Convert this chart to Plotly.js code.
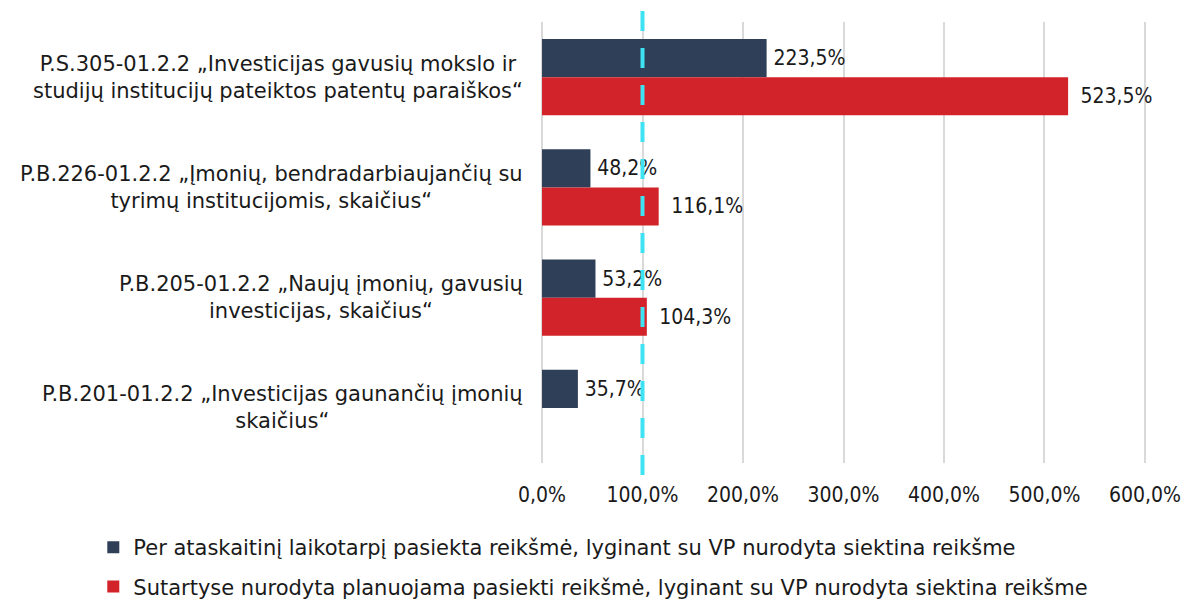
<!DOCTYPE html>
<html>
<head>
<meta charset="utf-8">
<script src="https://cdn.plot.ly/plotly-3.0.1.min.js"></script>
<style>html,body{margin:0;padding:0;background:#fff;}#chart{width:1181px;height:601px;}</style>
</head>
<body>
<div id="chart"></div>
<script>
const categories = ["P.S.305", "P.B.226", "P.B.205", "P.B.201"];
const categoryLabels = [
  "P.S.305-01.2.2 „Investicijas gavusių mokslo ir<br>studijų institucijų pateiktos patentų paraiškos“",
  "P.B.226-01.2.2 „Įmonių, bendradarbiaujančių su<br>tyrimų institucijomis, skaičius“",
  "P.B.205-01.2.2 „Naujų įmonių, gavusių<br>investicijas, skaičius“",
  "P.B.201-01.2.2 „Investicijas gaunančių įmonių<br>skaičius“"
];
const achieved = [223.5, 48.2, 53.2, 35.7];
const planned = [523.5, 116.1, 104.3, null];
const seriesNames = [
  "Per ataskaitinį laikotarpį pasiekta reikšmė, lyginant su VP nurodyta siektina reikšme",
  "Sutartyse nurodyta planuojama pasiekti reikšmė, lyginant su VP nurodyta siektina reikšme"
];
const tickValues = [0, 100, 200, 300, 400, 500, 600];
const targetLine = 100;

const FONT = "DejaVu Sans, sans-serif";
const NUMFONT = "DejaVu Sans Condensed, DejaVu Sans, sans-serif";
const fmt = v => v == null ? "" : v.toFixed(1).replace(".", ",") + "%";

const traces = [
  {
    type: "bar", orientation: "h", name: seriesNames[0], legendgroup: "a",
    y: categories, x: achieved,
    text: achieved.map(v => "\u2009" + fmt(v)),
    textposition: "outside", cliponaxis: false,
    textfont: {family: NUMFONT, size: 21, color: "#1a1a1a"},
    marker: {color: "#2E3F57"},
    hoverinfo: "x"
  },
  {
    type: "bar", orientation: "h", name: seriesNames[1], legendgroup: "b",
    y: categories, x: planned,
    text: planned.map(v => v == null ? "" : "\u2002" + fmt(v)),
    textposition: "outside", cliponaxis: false,
    textfont: {family: NUMFONT, size: 21, color: "#1a1a1a"},
    marker: {color: "#D2232A"},
    hoverinfo: "x"
  }
];

const annotations = categories.map((c, i) => ({
  xref: "x", yref: "y", x: 0, xshift: -17, y: c,
  xanchor: "right", yanchor: "middle", align: "center",
  text: categoryLabels[i], showarrow: false,
  font: {family: FONT, size: 21, color: "#1a1a1a"}
}));

const layout = {
  width: 1181, height: 601,
  margin: {l: 539, r: 33, t: 22, b: 138, autoexpand: false},
  paper_bgcolor: "#ffffff", plot_bgcolor: "#ffffff",
  font: {family: FONT, size: 20, color: "#1a1a1a"},
  barmode: "group", bargap: 0.31, bargroupgap: 0,
  showlegend: true,
  legend: {
    orientation: "v", xref: "container", yref: "container",
    x: 0.079, xanchor: "left", y: 0.123, yanchor: "top",
    traceorder: "grouped", tracegroupgap: 9,
    font: {family: FONT, size: 21, color: "#1a1a1a"},
    bgcolor: "rgba(0,0,0,0)"
  },
  xaxis: {
    range: [-3, 603], tickmode: "array", tickvals: tickValues, ticktext: tickValues.map(fmt),
    showgrid: true, gridcolor: "#D9D9D9", gridwidth: 2,
    zeroline: false, showline: false, ticks: "", ticklabelstandoff: 17,
    ticklabeloverflow: "allow",
    tickfont: {family: NUMFONT, size: 21, color: "#1a1a1a"},
    fixedrange: true
  },
  yaxis: {
    autorange: "reversed", showticklabels: false, showgrid: false,
    zeroline: false, showline: false, ticks: "", fixedrange: true
  },
  shapes: [{
    type: "line", xref: "x", yref: "paper",
    x0: targetLine, x1: targetLine, y0: -0.027, y1: 1.05,
    line: {color: "#3DE3F2", width: 4, dash: "20px,17px"}
  }],
  annotations: annotations
};

Plotly.newPlot("chart", traces, layout, {displayModeBar: false, staticPlot: true});
</script>
</body>
</html>
